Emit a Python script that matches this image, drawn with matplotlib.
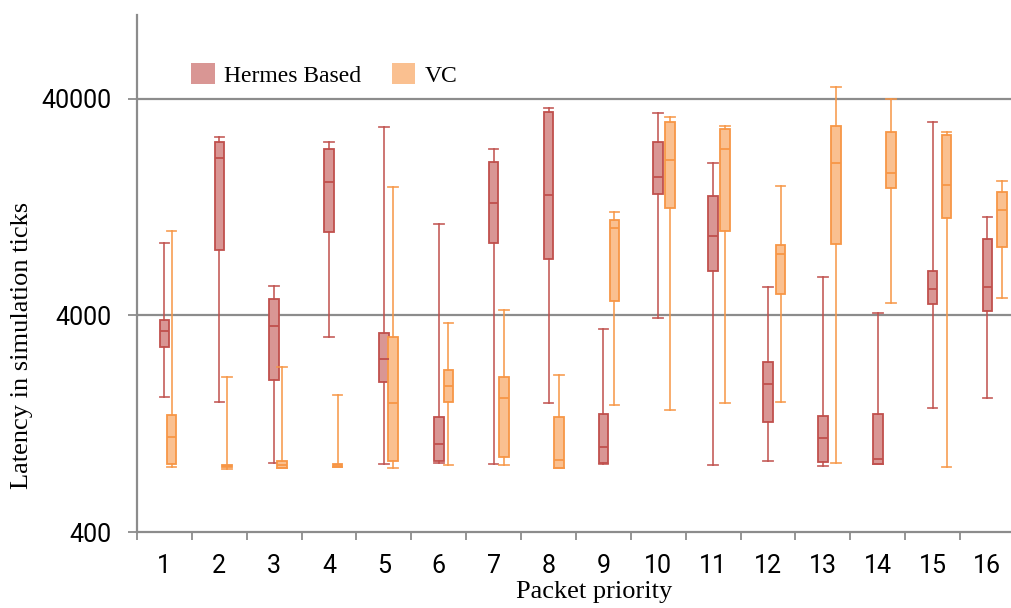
import numpy as np
import matplotlib
matplotlib.use("Agg")
import matplotlib.pyplot as plt
from matplotlib.patches import Patch
from matplotlib.ticker import FixedLocator, NullLocator, NullFormatter

# packet priorities
priorities = list(range(1, 17))

# Hermes based: whisker low, q1, median, q3, whisker high (simulation ticks)
hermes_low = [1680, 1600, 833, 3180, 824, 831, 824, 1570, 828, 3880, 813, 854, 810, 822, 1490, 1660]
hermes_q1 = [2850, 8000, 2010, 9690, 1980, 851, 8680, 7270, 833, 14500, 6420, 1290, 839, 827, 4520, 4180]
hermes_med = [3390, 21300, 3580, 16600, 2510, 1020, 13200, 14400, 988, 17400, 9350, 1940, 1090, 870, 5300, 5430]
hermes_q3 = [3800, 25200, 4780, 23400, 3330, 1360, 20500, 35000, 1410, 25200, 14200, 2430, 1370, 1410, 6420, 9000]
hermes_high = [8680, 26700, 5490, 25200, 29600, 10600, 23600, 36400, 3480, 34400, 20200, 5430, 6040, 4110, 31300, 11400]

# VC
vc_low = [796, 784, 786, 795, 788, 816, 813, 786, 1540, 1460, 1570, 1600, 836, 4580, 801, 4820]
vc_q1 = [822, 799, 788, 799, 848, 1590, 885, 788, 4680, 12600, 9800, 5010, 8580, 15600, 11300, 8260]
vc_med = [1100, 807, 816, 816, 1570, 1880, 1670, 863, 10100, 20900, 23600, 7670, 20200, 18300, 16100, 12300]
vc_q3 = [1390, 816, 848, 827, 3190, 2240, 2080, 1360, 11100, 31200, 29200, 8440, 29900, 28100, 27400, 14900]
vc_high = [9830, 2080, 2310, 1710, 15700, 3710, 4240, 2130, 12000, 33100, 30100, 15900, 45600, 40100, 28200, 16700]

plt.rcParams['font.family'] = ['Liberation Sans Narrow', 'Roboto', 'DejaVu Sans']

h_fill, h_edge = '#d99694', '#c0504d'
v_fill, v_edge = '#fac090', '#f79646'
grey = '#8c8c8c'


def stats(low, q1, med, q3, high):
    return [dict(whislo=a, q1=b, med=c, q3=d, whishi=e, fliers=[])
            for a, b, c, d, e in zip(low, q1, med, q3, high)]


fig = plt.figure(figsize=(10.11, 6.08), dpi=100)
ax = fig.add_axes([137 / 1011, 1 - 532 / 608, 877.9 / 1011, 517 / 608])

x = np.array(priorities, dtype=float)
w = 0.175
vc_off = np.linspace(0.13, 0.265, len(priorities))

for st, pos, fc, ec in [(stats(hermes_low, hermes_q1, hermes_med, hermes_q3, hermes_high), x, h_fill, h_edge),
                        (stats(vc_low, vc_q1, vc_med, vc_q3, vc_high), x + vc_off, v_fill, v_edge)]:
    ax.bxp(st, positions=pos, widths=w, capwidths=w, patch_artist=True, showfliers=False,
           boxprops=dict(facecolor=fc, edgecolor=ec, linewidth=1.3),
           medianprops=dict(color=ec, linewidth=1.3),
           whiskerprops=dict(color=ec, linewidth=1.3, alpha=0.85),
           capprops=dict(color=ec, linewidth=1.3, alpha=0.85))

ax.set_yscale('log')
ax.set_ylim(400, 97700)
ax.set_xlim(0.5, 16.5)

ax.yaxis.set_major_locator(FixedLocator([400, 4000, 40000]))
ax.yaxis.set_minor_locator(NullLocator())
ax.set_yticklabels(['400', '4000', '40000'])
for yv in [4000, 40000]:
    ax.axhline(yv, color=grey, lw=1.6, zorder=0)

ax.xaxis.set_major_locator(FixedLocator(np.arange(0.5, 17, 1.0)))
ax.xaxis.set_major_formatter(NullFormatter())
ax.xaxis.set_minor_locator(FixedLocator(x))
ax.set_xticks(x, [str(p) for p in priorities], minor=True)

ax.tick_params(axis='x', which='major', length=6, width=1.3, color=grey, direction='out')
ax.tick_params(axis='x', which='minor', length=0, pad=16, labelsize=18)
ax.tick_params(axis='y', which='major', length=6.5, width=1.3, color=grey, pad=12, labelsize=18)

for s in ['top', 'right']:
    ax.spines[s].set_visible(False)
for s in ['left', 'bottom']:
    ax.spines[s].set_color(grey)
    ax.spines[s].set_linewidth(1.6)

serif = ['Liberation Serif', 'DejaVu Serif']
fig.text(594 / 1011, 1 - 592 / 608, 'Packet priority', ha='center', va='center',
         fontsize=19, family=serif)
fig.text(22 / 1011, 1 - 345 / 608, 'Latency in simulation ticks', ha='center', va='center',
         rotation=90, fontsize=19, family=serif)

handles = [Patch(facecolor=h_fill, edgecolor='none', label='Hermes Based'),
           Patch(facecolor=v_fill, edgecolor='none', label='VC')]
fig.legend(handles=handles, loc='upper left', bbox_to_anchor=(191 / 1011, 1 - 63 / 608),
           ncol=2, frameon=False, borderpad=0, borderaxespad=0,
           handlelength=1.0, handleheight=1.0, handletextpad=0.4, columnspacing=1.3,
           prop=dict(family=serif, size=17))

fig.savefig('out.png', dpi=100)
